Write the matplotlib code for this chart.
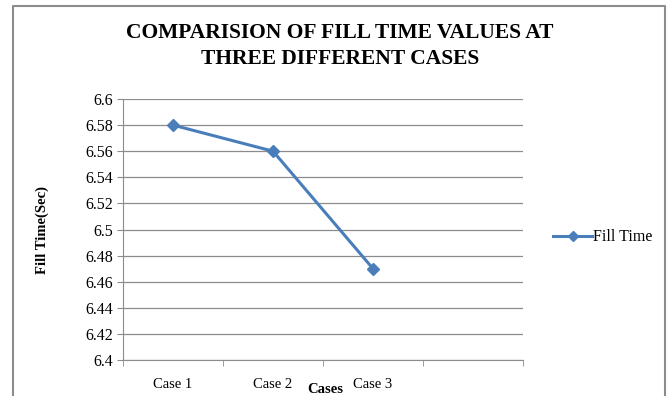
import matplotlib.pyplot as plt
import numpy as np

cases = ["Case 1", "Case 2", "Case 3"]
fill_time = [6.58, 6.56, 6.47]

plt.rcParams['font.family'] = ['Liberation Serif', 'DejaVu Serif']

fig = plt.figure(figsize=(6.7, 3.96), dpi=100)
ax = fig.add_axes([123/670, 36/396, 400/670, 261/396])

x = np.arange(len(cases))
ax.plot(x, fill_time, color='#4A7EBB', lw=2.2, marker='D', ms=6, label='Fill Time')

ax.set_xlim(-0.5, 3.5)
ax.set_ylim(6.4, 6.6)
ax.set_yticks(np.arange(6.4, 6.6001, 0.02))
ax.set_yticklabels(['6.4', '6.42', '6.44', '6.46', '6.48', '6.5', '6.52', '6.54', '6.56', '6.58', '6.6'])
ax.yaxis.grid(True, color='#8c8c8c', lw=0.9)
ax.set_axisbelow(True)

ax.set_xticks(x)
ax.set_xticklabels(cases)
ax.set_xticks(np.arange(-0.5, 3.6, 1), minor=True)
ax.tick_params(axis='x', which='major', length=0, pad=13, labelsize=10.5)
ax.tick_params(axis='x', which='minor', length=4, color='#8c8c8c')
ax.tick_params(axis='y', length=4, color='#8c8c8c', labelsize=11.5, pad=3)

for s in ['top', 'right']:
    ax.spines[s].set_visible(False)
for s in ['left', 'bottom']:
    ax.spines[s].set_color('#8c8c8c')

ax.set_xlabel('Cases', fontweight='bold', fontsize=10.5)
ax.xaxis.set_label_coords(0.505, -0.09)
ax.set_ylabel('Fill Time(Sec)', fontweight='bold', fontsize=10.5)
ax.yaxis.set_label_coords(-0.185, 0.5)

fig.text(340/670, 1-46/396, 'COMPARISION OF FILL TIME VALUES AT\nTHREE DIFFERENT CASES',
         ha='center', va='center', fontsize=15.5, fontweight='bold', linespacing=1.35)

ax.legend(loc='center left', bbox_to_anchor=(1.04, 0.47), frameon=False,
          fontsize=11.5, handlelength=2.4, handletextpad=0.1, markerscale=0.8)

# outer chart border (left, top, right)
fig.add_artist(plt.Line2D([13/670, 13/670, 665/670, 665/670],
                          [0, 1-6/396, 1-6/396, 0], color='#8c8c8c', lw=1.5))

fig.savefig('out.png', dpi=100)
